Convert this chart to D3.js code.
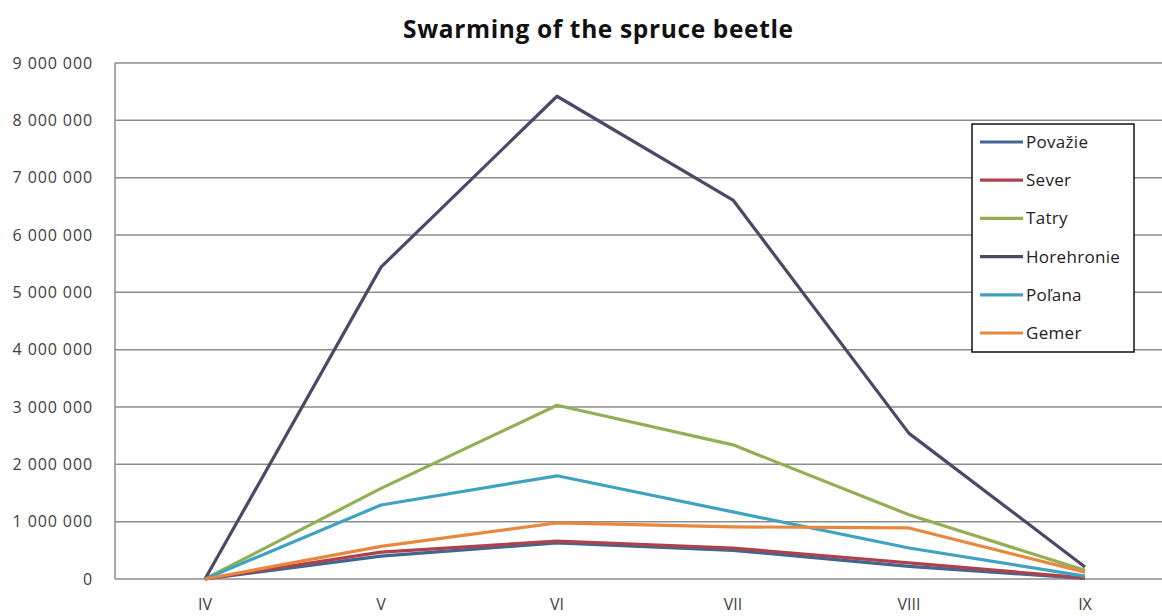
<!DOCTYPE html>
<html>
<head>
<meta charset="utf-8">
<script src="https://cdn.jsdelivr.net/npm/d3@7"></script>
<style>
  body { margin: 0; background: #fff; }
  text { font-family: "Open Sans", "Noto Sans", sans-serif; }
</style>
</head>
<body>
<svg width="1162" height="616"></svg>
<script>
var svg = d3.select("svg"),
    width = +svg.attr("width"),
    height = +svg.attr("height");

// months (roman numerals)
var months = ["IV", "V", "VI", "VII", "VIII", "IX"];

var seriesNames = ["Považie", "Sever", "Tatry", "Horehronie", "Poľana", "Gemer"];
var colors = ["#3f6790", "#b0404a", "#93ae55", "#4d4866", "#3fa3bf", "#e8883e"];

var povazie    = [0, 400000, 630000, 500000, 220000, 10000];
var sever      = [0, 470000, 660000, 540000, 280000, 20000];
var tatry      = [0, 1580000, 3030000, 2340000, 1120000, 150000];
var horehronie = [0, 5440000, 8420000, 6610000, 2540000, 210000];
var polana     = [0, 1290000, 1800000, 1170000, 540000, 50000];
var gemer      = [0, 570000, 980000, 910000, 890000, 120000];

var yTicks = [0, 1000000, 2000000, 3000000, 4000000, 5000000, 6000000, 7000000, 8000000, 9000000];

var allSeries = [povazie, sever, tatry, horehronie, polana, gemer];

var margin = {left: 117, top: 63, bottom: 579};

var x = d3.scalePoint()
    .domain(months)
    .range([205, 1085]);

var y = d3.scaleLinear()
    .domain([0, 9000000])
    .range([margin.bottom, margin.top]);

var fmt = d3.formatLocale({decimal: ",", thousands: " ", grouping: [3], currency: ["", ""]}).format(",d");

// title
svg.append("text")
    .attr("x", 598)
    .attr("y", 38)
    .attr("text-anchor", "middle")
    .style("font-weight", "bold")
    .style("font-size", "24.5px")
    .attr("textLength", 390)
    .attr("lengthAdjust", "spacing")
    .attr("fill", "#111")
    .text("Swarming of the spruce beetle");

// gridlines
svg.append("g")
    .selectAll("line")
    .data(yTicks)
    .enter().append("line")
      .attr("x1", margin.left - 2)
      .attr("x2", width)
      .attr("y1", d => y(d))
      .attr("y2", d => y(d))
      .attr("stroke", "#8c8c8c")
      .attr("stroke-width", 1.5);

// left axis line
svg.append("line")
    .attr("x1", margin.left - 2).attr("x2", margin.left - 2)
    .attr("y1", y(9000000)).attr("y2", y(0))
    .attr("stroke", "#8c8c8c")
    .attr("stroke-width", 1.5);

// y labels
svg.append("g")
    .selectAll("text")
    .data(yTicks)
    .enter().append("text")
      .attr("x", 93)
      .attr("y", d => y(d))
      .attr("dy", "0.35em")
      .attr("text-anchor", "end")
      .attr("fill", "#404040")
      .style("font-size", "16px")
      .style("letter-spacing", "0.9px")
      .text(d => fmt(d));

// x labels
svg.append("g")
    .selectAll("text")
    .data(months)
    .enter().append("text")
      .attr("x", d => x(d))
      .attr("y", 610)
      .attr("text-anchor", "middle")
      .attr("fill", "#404040")
      .style("font-size", "16px")
      .text(d => d);

var line = d3.line()
    .x((d, i) => x(months[i]))
    .y(d => y(d));

svg.append("g")
    .selectAll("path")
    .data(allSeries)
    .enter().append("path")
      .attr("d", d => line(d))
      .attr("fill", "none")
      .attr("stroke", (d, i) => colors[i])
      .attr("stroke-width", 3.2)
      .attr("stroke-linejoin", "round");

// legend
var legend = svg.append("g");
legend.append("rect")
    .attr("x", 972).attr("y", 124)
    .attr("width", 162).attr("height", 228)
    .attr("fill", "#fff")
    .attr("stroke", "#111")
    .attr("stroke-width", 1.5);

var item = legend.selectAll("g.item")
    .data(seriesNames)
    .enter().append("g")
      .attr("class", "item")
      .attr("transform", (d, i) => "translate(980," + (142 + i * 38.2) + ")");

item.append("line")
    .attr("x1", 0).attr("x2", 43)
    .attr("stroke", (d, i) => colors[i])
    .attr("stroke-width", 3.2);

item.append("text")
    .attr("x", 46)
    .attr("dy", "0.35em")
    .attr("fill", "#222")
    .style("font-size", "17px")
    .style("letter-spacing", "0.3px")
    .text(d => d);
</script>
</body>
</html>
